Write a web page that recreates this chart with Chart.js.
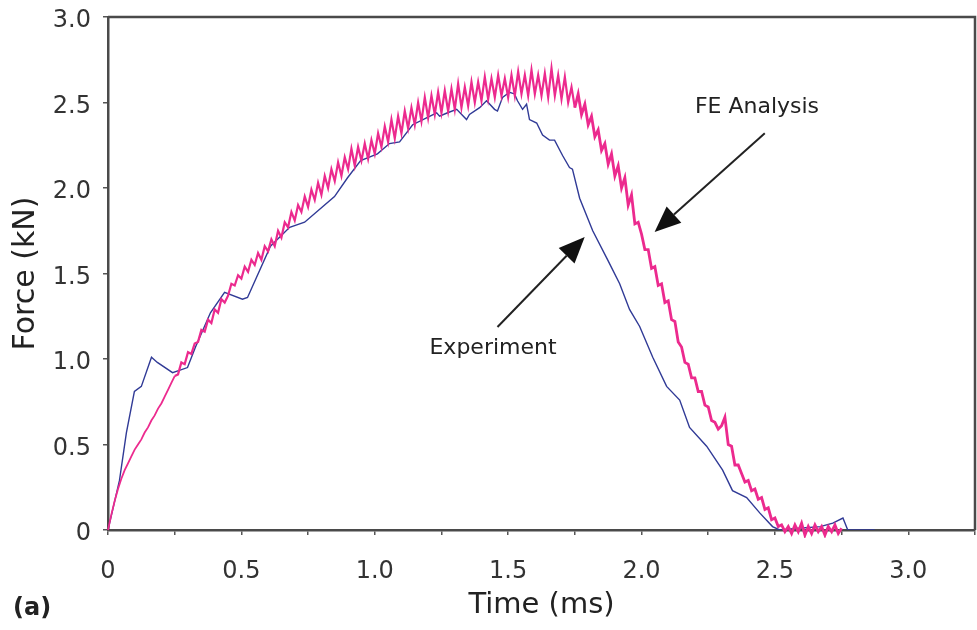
<!DOCTYPE html>
<html>
<head>
<meta charset="utf-8">
<script src="https://cdn.jsdelivr.net/npm/chart.js@4.4.1/dist/chart.umd.min.js"></script>
<style>
  html, body { margin: 0; padding: 0; background: #fff; }
  #chart { display: block; }
</style>
</head>
<body>
<canvas id="chart" width="977" height="630"></canvas>
<script>
'use strict';

// Experiment (blue) - time (ms), force (kN)
const expTime = [0, 0.043, 0.069, 0.099, 0.125, 0.163, 0.185, 0.242, 0.298, 0.328,
  0.384, 0.437, 0.504, 0.523, 0.609, 0.681, 0.737, 0.849, 0.898, 0.947,
  1.01, 1.055, 1.093, 1.142, 1.194, 1.232, 1.243, 1.273, 1.307, 1.344,
  1.355, 1.393, 1.419, 1.449, 1.46, 1.479, 1.505, 1.524, 1.535, 1.554,
  1.569, 1.58, 1.607, 1.629, 1.655, 1.674, 1.704, 1.73, 1.741, 1.768,
  1.817, 1.873, 1.918, 1.955, 1.993, 2.042, 2.094, 2.143, 2.18, 2.244,
  2.304, 2.341, 2.394, 2.443, 2.491, 2.518, 2.59, 2.67, 2.717, 2.755,
  2.773, 2.874];
const expForce = [0, 0.29, 0.57, 0.81, 0.84, 1.01, 0.98, 0.92, 0.95, 1.07,
  1.27, 1.39, 1.35, 1.36, 1.66, 1.77, 1.80, 1.95, 2.06, 2.16,
  2.20, 2.26, 2.27, 2.37, 2.41, 2.44, 2.42, 2.44, 2.46, 2.40,
  2.43, 2.47, 2.51, 2.46, 2.45, 2.53, 2.56, 2.55, 2.51, 2.46,
  2.49, 2.40, 2.38, 2.31, 2.28, 2.28, 2.19, 2.12, 2.11, 1.94,
  1.75, 1.58, 1.44, 1.29, 1.19, 1.01, 0.84, 0.76, 0.60, 0.49,
  0.35, 0.23, 0.19, 0.10, 0.02, 0.0, 0.01, 0.02, 0.04, 0.07,
  0.0, 0.0];

// FE Analysis (pink, noisy) - time (ms), force (kN)
const feTime = [
  0, 0.0125, 0.025, 0.0375, 0.05, 0.0625, 0.075, 0.0875, 0.1, 0.1125,
  0.125, 0.1375, 0.15, 0.1625, 0.175, 0.1875, 0.2, 0.2125, 0.225, 0.2375,
  0.25, 0.2625, 0.275, 0.2875, 0.3, 0.3125, 0.325, 0.3375, 0.35, 0.3625,
  0.375, 0.3875, 0.4, 0.4125, 0.425, 0.4375, 0.45, 0.4625, 0.475, 0.4875,
  0.5, 0.5125, 0.525, 0.5375, 0.55, 0.5625, 0.575, 0.5875, 0.6, 0.6125,
  0.625, 0.6375, 0.65, 0.6625, 0.675, 0.6875, 0.7, 0.7125, 0.725, 0.7375,
  0.75, 0.7625, 0.775, 0.7875, 0.8, 0.8125, 0.825, 0.8375, 0.85, 0.8625,
  0.875, 0.8875, 0.9, 0.9125, 0.925, 0.9375, 0.95, 0.9625, 0.975, 0.9875,
  1.0, 1.0125, 1.025, 1.0375, 1.05, 1.0625, 1.075, 1.0875, 1.1, 1.1125,
  1.125, 1.1375, 1.15, 1.1625, 1.175, 1.1875, 1.2, 1.2125, 1.225, 1.2375,
  1.25, 1.2625, 1.275, 1.2875, 1.3, 1.3125, 1.325, 1.3375, 1.35, 1.3625,
  1.375, 1.3875, 1.4, 1.4125, 1.425, 1.4375, 1.45, 1.4625, 1.475, 1.4875,
  1.5, 1.5125, 1.525, 1.5375, 1.55, 1.5625, 1.575, 1.5875, 1.6, 1.6125,
  1.625, 1.6375, 1.65, 1.6625, 1.675, 1.6875, 1.7, 1.7125, 1.725, 1.7375,
  1.75, 1.7625, 1.775, 1.7875, 1.8, 1.8125, 1.825, 1.8375, 1.85, 1.8625,
  1.875, 1.8875, 1.9, 1.9125, 1.925, 1.9375, 1.95, 1.9625, 1.975, 1.9875,
  2.0, 2.0125, 2.025, 2.0375, 2.05, 2.0625, 2.075, 2.0875, 2.1, 2.1125,
  2.125, 2.1375, 2.15, 2.1625, 2.175, 2.1875, 2.2, 2.2125, 2.225, 2.2375,
  2.25, 2.2625, 2.275, 2.2875, 2.3, 2.3125, 2.325, 2.3375, 2.35, 2.3625,
  2.375, 2.3875, 2.4, 2.4125, 2.425, 2.4375, 2.45, 2.4625, 2.475, 2.4875,
  2.5, 2.5125, 2.525, 2.5375, 2.55, 2.5625, 2.575, 2.5875, 2.6, 2.6125,
  2.625, 2.6375, 2.65, 2.6625, 2.675, 2.6875, 2.7, 2.7125, 2.725, 2.7375,
  2.75];
const feForce = [
  0, 0.09, 0.17, 0.24, 0.30, 0.35, 0.39, 0.43, 0.47, 0.50,
  0.53, 0.57, 0.60, 0.64, 0.67, 0.71, 0.74, 0.78, 0.82, 0.86,
  0.90, 0.91, 0.98, 0.97, 1.04, 1.03, 1.09, 1.10, 1.17, 1.16,
  1.23, 1.21, 1.29, 1.27, 1.35, 1.33, 1.37, 1.44, 1.43, 1.49,
  1.47, 1.54, 1.51, 1.58, 1.55, 1.62, 1.58, 1.66, 1.63, 1.70,
  1.66, 1.75, 1.71, 1.80, 1.77, 1.86, 1.81, 1.90, 1.86, 1.95,
  1.89, 1.99, 1.93, 2.03, 1.96, 2.07, 2.00, 2.11, 2.04, 2.15,
  2.07, 2.18, 2.11, 2.23, 2.13, 2.24, 2.16, 2.26, 2.17, 2.28,
  2.20, 2.32, 2.24, 2.36, 2.27, 2.40, 2.29, 2.42, 2.32, 2.45,
  2.35, 2.47, 2.37, 2.50, 2.39, 2.53, 2.41, 2.54, 2.43, 2.56,
  2.44, 2.57, 2.45, 2.58, 2.46, 2.61, 2.47, 2.59, 2.48, 2.62,
  2.50, 2.62, 2.51, 2.65, 2.52, 2.64, 2.53, 2.66, 2.54, 2.64,
  2.53, 2.66, 2.54, 2.68, 2.55, 2.66, 2.54, 2.69, 2.55, 2.66,
  2.54, 2.67, 2.53, 2.70, 2.54, 2.66, 2.52, 2.65, 2.50, 2.59,
  2.47, 2.55, 2.43, 2.49, 2.37, 2.42, 2.30, 2.34, 2.22, 2.26,
  2.14, 2.20, 2.07, 2.13, 2.00, 2.06, 1.90, 1.96, 1.79, 1.80,
  1.73, 1.64, 1.64, 1.53, 1.54, 1.43, 1.44, 1.33, 1.34, 1.23,
  1.22, 1.10, 1.07, 0.98, 0.97, 0.89, 0.89, 0.81, 0.81, 0.73,
  0.72, 0.64, 0.63, 0.59, 0.61, 0.66, 0.50, 0.49, 0.38, 0.38,
  0.33, 0.28, 0.29, 0.23, 0.24, 0.18, 0.19, 0.12, 0.13, 0.06,
  0.07, 0.02, 0.03, -0.01, 0.02, -0.02, 0.03, -0.01, 0.04, -0.03,
  0.02, -0.02, 0.03, -0.01, 0.02, -0.03, 0.02, -0.01, 0.03, -0.02,
  0.01];

const xTickValues = [0, 0.5, 1.0, 1.5, 2.0, 2.5, 3.0];
const xTickLabels = ['0', '0.5', '1.0', '1.5', '2.0', '2.5', '3.0'];
const yTickValues = [0, 0.5, 1.0, 1.5, 2.0, 2.5, 3.0];
const yTickLabels = ['0', '0.5', '1.0', '1.5', '2.0', '2.5', '3.0'];

// annotation text + arrows, in data units
const notes = [
  { text: 'FE Analysis', x: 2.2, y: 2.47, from: [2.462, 2.32], to: [2.049, 1.743] },
  { text: 'Experiment', x: 1.205, y: 1.06, from: [1.46, 1.187], to: [1.787, 1.713] }
];

const FONT = 'DejaVu Sans';
const axisColor = '#4a4a4a';

function labelFor(values, labels, v) {
  const i = values.findIndex(t => Math.abs(t - v) < 1e-6);
  return i >= 0 ? labels[i] : '';
}

const framePlugin = {
  id: 'frame',
  afterDraw(chart) {
    const { ctx, chartArea: a } = chart;
    ctx.save();
    ctx.strokeStyle = axisColor;
    ctx.lineWidth = 2.5;
    ctx.beginPath();
    ctx.moveTo(a.left, a.top);
    ctx.lineTo(a.right, a.top);
    ctx.lineTo(a.right, a.bottom);
    ctx.stroke();

    ctx.fillStyle = '#222';
    ctx.font = 'bold 24px "' + FONT + '"';
    ctx.textBaseline = 'middle';
    ctx.textAlign = 'left';
    ctx.fillText('(a)', 13, 609);
    ctx.restore();
  }
};

const notesPlugin = {
  id: 'notes',
  afterDatasetsDraw(chart) {
    const { ctx, scales: { x, y } } = chart;
    ctx.save();
    notes.forEach(n => {
      const x0 = x.getPixelForValue(n.from[0]), y0 = y.getPixelForValue(n.from[1]);
      const x1 = x.getPixelForValue(n.to[0]), y1 = y.getPixelForValue(n.to[1]);
      const ang = Math.atan2(y1 - y0, x1 - x0);
      const headLen = 26, headW = 11;
      const bx = x1 - headLen * Math.cos(ang), by = y1 - headLen * Math.sin(ang);
      ctx.strokeStyle = '#222';
      ctx.lineWidth = 2;
      ctx.beginPath();
      ctx.moveTo(x0, y0);
      ctx.lineTo(bx, by);
      ctx.stroke();
      ctx.fillStyle = '#111';
      ctx.beginPath();
      ctx.moveTo(x1, y1);
      ctx.lineTo(bx + headW * Math.sin(ang), by - headW * Math.cos(ang));
      ctx.lineTo(bx - headW * Math.sin(ang), by + headW * Math.cos(ang));
      ctx.closePath();
      ctx.fill();

      ctx.fillStyle = '#222';
      ctx.font = '22px "' + FONT + '"';
      ctx.textBaseline = 'middle';
      ctx.textAlign = 'left';
      ctx.fillText(n.text, x.getPixelForValue(n.x), y.getPixelForValue(n.y));
    });
    ctx.restore();
  }
};

new Chart(document.getElementById('chart'), {
  type: 'line',
  data: {
    datasets: [
      {
        label: 'FE Analysis',
        data: feTime.map((t, i) => ({ x: t, y: feForce[i] })),
        borderColor: 'rgb(236, 42, 142)',
        borderWidth: 2.2,
        segment: {
          borderWidth: c => {
            const t = c.p1.parsed.x;
            if (t <= 0.25) return 1.8;
            return t > 1.75 ? 2.8 : 2.2;
          }
        },
        pointRadius: 0,
        tension: 0,
        clip: 8,
        order: 0
      },
      {
        label: 'Experiment',
        data: expTime.map((t, i) => ({ x: t, y: expForce[i] })),
        borderColor: 'rgb(48, 58, 150)',
        borderWidth: 1.4,
        pointRadius: 0,
        tension: 0,
        order: 1
      }
    ]
  },
  options: {
    responsive: false,
    animation: false,
    layout: { autoPadding: false, padding: { top: 17, right: 2, left: 0, bottom: 0 } },
    plugins: {
      legend: { display: false },
      tooltip: { enabled: false }
    },
    scales: {
      x: {
        type: 'linear',
        min: 0,
        max: 3.25,
        afterFit: s => {
          s.height = 100;
          s.paddingLeft = 0;
          s.paddingRight = 0;
        },
        grid: {
          drawOnChartArea: false,
          drawTicks: true,
          tickLength: 5,
          color: '#555',
          lineWidth: 1.5
        },
        border: { color: axisColor, width: 2.5 },
        ticks: {
          stepSize: 0.25,
          autoSkip: false,
          maxRotation: 0,
          padding: 22,
          color: '#333',
          font: { family: FONT, size: 24 },
          callback: v => labelFor(xTickValues, xTickLabels, v)
        },
        title: {
          display: true,
          text: 'Time (ms)',
          color: '#222',
          font: { family: FONT, size: 29 },
          padding: { top: 0, bottom: 7 }
        }
      },
      y: {
        min: 0,
        max: 3,
        afterFit: s => {
          s.width = 108;
          s.paddingTop = 0;
          s.paddingBottom = 0;
        },
        grid: {
          drawOnChartArea: false,
          drawTicks: true,
          tickLength: 5,
          color: '#555',
          lineWidth: 1.5
        },
        border: { color: axisColor, width: 2.5 },
        ticks: {
          stepSize: 0.5,
          padding: 12,
          labelOffset: 4,
          color: '#333',
          font: { family: FONT, size: 24 },
          callback: v => labelFor(yTickValues, yTickLabels, v)
        },
        title: {
          display: true,
          text: 'Force (kN)',
          color: '#222',
          font: { family: FONT, size: 30 },
          padding: { top: 8, bottom: 0 }
        }
      }
    }
  },
  plugins: [framePlugin, notesPlugin]
});
</script>
</body>
</html>
